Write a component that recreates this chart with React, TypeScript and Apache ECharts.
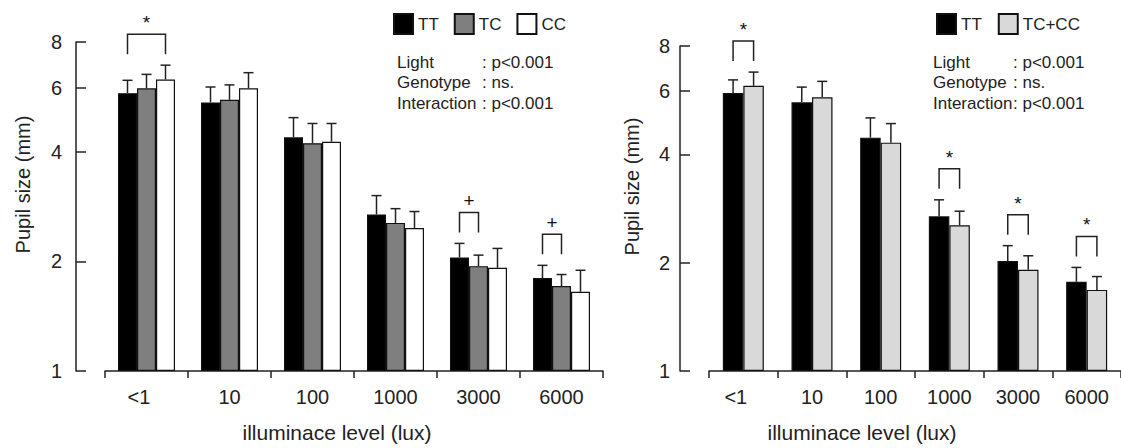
import React, { useEffect, useRef } from "react";
import * as echarts from "echarts";

// ---------- data ----------
const CATEGORIES = ["<1", "10", "100", "1000", "3000", "6000"];
const Y_TICKS = [1, 2, 4, 6, 8];

// Left panel: three genotypes (mean, SE)
const TT_MEAN = [5.79, 5.46, 4.38, 2.69, 2.05, 1.8];
const TT_SE = [0.49, 0.56, 0.58, 0.34, 0.19, 0.15];
const TC_MEAN = [5.97, 5.55, 4.22, 2.55, 1.94, 1.71];
const TC_SE = [0.55, 0.55, 0.56, 0.24, 0.14, 0.13];
const CC_MEAN = [6.31, 5.97, 4.26, 2.47, 1.92, 1.65];
const CC_SE = [0.6, 0.62, 0.52, 0.27, 0.25, 0.24];

// Right panel: TT vs TC+CC (mean, SE)
const TT2_MEAN = [5.92, 5.58, 4.45, 2.69, 2.02, 1.77];
const TT2_SE = [0.52, 0.57, 0.6, 0.3, 0.21, 0.17];
const TCCC_MEAN = [6.2, 5.76, 4.31, 2.54, 1.91, 1.68];
const TCCC_SE = [0.57, 0.62, 0.56, 0.24, 0.18, 0.15];

// significance brackets: category index, from series, to series, mark
const SIG_LEFT = [
  { cat: 0, from: 0, to: 2, mark: "*" },
  { cat: 4, from: 0, to: 1, mark: "+" },
  { cat: 5, from: 0, to: 1, mark: "+" },
];
const SIG_RIGHT = [
  { cat: 0, from: 0, to: 1, mark: "*" },
  { cat: 3, from: 0, to: 1, mark: "*" },
  { cat: 4, from: 0, to: 1, mark: "*" },
  { cat: 5, from: 0, to: 1, mark: "*" },
];

const STATS_LABELS = ["Light", "Genotype", "Interaction"];
const STATS_VALUES = [": p<0.001", ": ns.", ": p<0.001"];

// ---------- styling ----------
const FONT = "'Liberation Sans', Arial, sans-serif";
const INK = "#222";

type S = { name: string; mean: number[]; se: number[]; color: string };

const LEFT_SERIES: S[] = [
  { name: "TT", mean: TT_MEAN, se: TT_SE, color: "#000000" },
  { name: "TC", mean: TC_MEAN, se: TC_SE, color: "#7f7f7f" },
  { name: "CC", mean: CC_MEAN, se: CC_SE, color: "#ffffff" },
];
const RIGHT_SERIES: S[] = [
  { name: "TT", mean: TT2_MEAN, se: TT2_SE, color: "#000000" },
  { name: "TC+CC", mean: TCCC_MEAN, se: TCCC_SE, color: "#d9d9d9" },
];

function makeX(gi: number, padRight: number) {
  return {
    type: "category",
    gridIndex: gi,
    data: CATEGORIES,
    boundaryGap: true,
    axisLine: { show: true, lineStyle: { color: INK, width: 1.5 } },
    axisTick: { show: true, length: 7, alignWithLabel: false, interval: 0, lineStyle: { color: INK, width: 1.5 } },
    axisLabel: {
      interval: 0,
      margin: 16,
      fontSize: 20,
      color: INK,
      fontFamily: FONT,
      formatter: (v: string) => (v === "<1" ? "{s|<1}" : v),
      rich: { s: { fontSize: 20, color: INK, fontFamily: FONT, padding: [0, 15, 0, 0] } },
    },
    splitLine: { show: false },
    name: "illuminace level (lux)",
    nameLocation: "middle",
    nameGap: 51,
    nameTextStyle: { fontSize: 21, color: INK, fontFamily: FONT, padding: [0, padRight, 0, 0] },
  };
}

function makeY(gi: number, labelMargin: number, nameGap: number) {
  return {
    type: "log",
    logBase: 2,
    gridIndex: gi,
    min: 1,
    max: 8,
    offset: 29,
    axisLine: { show: true, lineStyle: { color: INK, width: 1.5 } },
    axisTick: { show: true, inside: true, length: 10, customValues: Y_TICKS, lineStyle: { color: INK, width: 1.5 } },
    axisLabel: { customValues: Y_TICKS, margin: labelMargin, fontSize: 20, color: INK, fontFamily: FONT },
    splitLine: { show: false },
    name: "Pupil size (mm)",
    nameLocation: "middle",
    nameRotate: 90,
    nameGap,
    nameTextStyle: { fontSize: 20, color: INK, fontFamily: FONT, padding: [0, 0, 0, 44] },
  };
}

function barSeries(list: S[], gi: number, bw: number) {
  return list.map((s) => ({
    type: "bar",
    name: s.name,
    xAxisIndex: gi,
    yAxisIndex: gi,
    data: s.mean,
    barWidth: bw,
    barGap: "0%",
    itemStyle: { color: s.color, borderColor: "#111", borderWidth: 1.2 },
    emphasis: { disabled: true },
  }));
}

function errSeries(list: S[], gi: number, bw: number) {
  const n = list.length;
  const data: number[][] = [];
  list.forEach((s, si) => {
    s.mean.forEach((m, ci) => data.push([ci, m, m + s.se[ci], si]));
  });
  return {
    type: "custom",
    xAxisIndex: gi,
    yAxisIndex: gi,
    data,
    encode: { x: 0, y: [1, 2] },
    z: 5,
    silent: true,
    renderItem: (_p: any, api: any) => {
      const ci = api.value(0);
      const pm = api.coord([ci, api.value(1)]);
      const pt = api.coord([ci, api.value(2)]);
      const x = pm[0] + (api.value(3) - (n - 1) / 2) * bw;
      const st = { stroke: INK, lineWidth: 1.5, fill: null };
      return {
        type: "group",
        children: [
          { type: "line", shape: { x1: x, y1: pm[1], x2: x, y2: pt[1] }, style: st },
          { type: "line", shape: { x1: x - 5, y1: pt[1], x2: x + 5, y2: pt[1] }, style: st },
        ],
      };
    },
  };
}

function sigSeries(list: S[], sig: typeof SIG_LEFT, gi: number, bw: number) {
  const n = list.length;
  const data = sig.map((g) => {
    let hi = 0;
    for (let k = g.from; k <= g.to; k++) {
      hi = Math.max(hi, list[k].mean[g.cat] + list[k].se[g.cat]);
    }
    return [g.cat, hi, g.from, g.to];
  });
  return {
    type: "custom",
    xAxisIndex: gi,
    yAxisIndex: gi,
    data,
    encode: { x: 0, y: 1 },
    z: 6,
    silent: true,
    clip: false,
    renderItem: (params: any, api: any) => {
      const p = api.coord([api.value(0), api.value(1)]);
      const x0 = p[0] + (api.value(2) - (n - 1) / 2) * bw;
      const x1 = p[0] + (api.value(3) - (n - 1) / 2) * bw;
      const yLeg = p[1] - 11;
      const yTop = yLeg - 20;
      return {
        type: "group",
        children: [
          {
            type: "polyline",
            shape: { points: [[x0, yLeg], [x0, yTop], [x1, yTop], [x1, yLeg]] },
            style: { stroke: INK, lineWidth: 1.5, fill: null },
          },
          {
            type: "text",
            x: (x0 + x1) / 2,
            y: yTop - 2,
            style: {
              text: sig[params.dataIndex].mark,
              fontSize: 19,
              fontFamily: FONT,
              fill: "#111111",
              align: "center",
              verticalAlign: "bottom",
            },
          },
        ],
      };
    },
  };
}

function statsGraphics(xLabel: number, xValue: number, yFirst: number) {
  const out: any[] = [];
  STATS_LABELS.forEach((lab, i) => {
    const y = yFirst + i * 20.7;
    out.push({
      type: "text",
      x: xLabel,
      y,
      style: { text: lab, fontSize: 17, fontFamily: FONT, fill: INK, verticalAlign: "middle" },
    });
    out.push({
      type: "text",
      x: xValue,
      y,
      style: { text: STATS_VALUES[i], fontSize: 17, fontFamily: FONT, fill: INK, verticalAlign: "middle" },
    });
  });
  return out;
}

const BW_L = 19;
const BW_R = 20.5;

export default function App() {
  const ref = useRef<HTMLDivElement>(null);
  useEffect(() => {
    if (!ref.current) return;
    const chart = echarts.init(ref.current, null, { renderer: "svg" });
    const option: any = {
      animation: false,
      backgroundColor: "#ffffff",
      textStyle: { fontFamily: FONT, color: INK },
      grid: [
        { left: 105, top: 42, width: 498, height: 334 },
        { left: 709, top: 46, width: 423, height: 330 },
      ],
      xAxis: [makeX(0, 34), makeX(1, 106)],
      yAxis: [makeY(0, 14, 43), makeY(1, 10, 38)],
      legend: [
        {
          left: 393,
          top: 13,
          padding: 0,
          icon: "rect",
          itemWidth: 19,
          itemHeight: 20,
          itemGap: 15,
          selectedMode: false,
          data: LEFT_SERIES.map((s) => s.name),
          textStyle: { fontSize: 17, color: INK, fontFamily: FONT },
        },
        {
          left: 936,
          top: 13,
          padding: 0,
          icon: "rect",
          itemWidth: 19,
          itemHeight: 20,
          itemGap: 16,
          selectedMode: false,
          data: RIGHT_SERIES.map((s) => s.name),
          textStyle: { fontSize: 17, color: INK, fontFamily: FONT },
        },
      ],
      series: [
        ...barSeries(LEFT_SERIES, 0, BW_L),
        ...barSeries(RIGHT_SERIES, 1, BW_R),
        errSeries(LEFT_SERIES, 0, BW_L),
        errSeries(RIGHT_SERIES, 1, BW_R),
        sigSeries(LEFT_SERIES, SIG_LEFT, 0, BW_L),
        sigSeries(RIGHT_SERIES, SIG_RIGHT, 1, BW_R),
      ],
      graphic: [...statsGraphics(397, 482, 62), ...statsGraphics(933, 1013, 62)],
    };
    chart.setOption(option);
    return () => chart.dispose();
  }, []);
  return (
    <div
      ref={ref}
      style={{ position: "fixed", left: 0, top: 0, width: 1121, height: 448, background: "#fff" }}
    />
  );
}
